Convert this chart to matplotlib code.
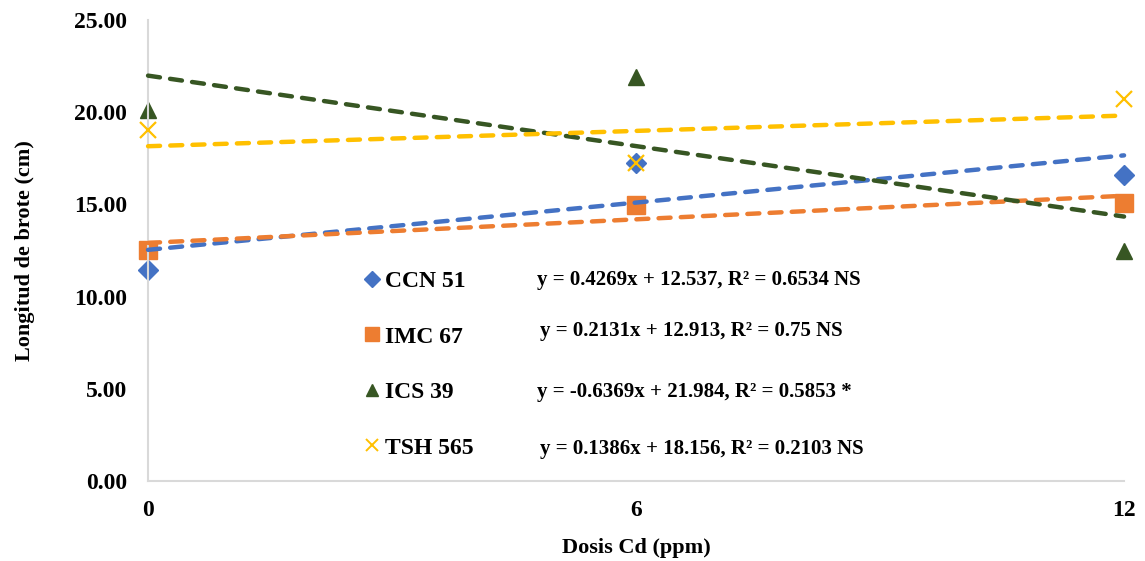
import numpy as np
import matplotlib.pyplot as plt
from matplotlib.lines import Line2D
from matplotlib.ticker import FormatStrFormatter

plt.rcParams['font.family'] = ['Liberation Serif', 'DejaVu Serif']
plt.rcParams['font.weight'] = 'bold'

# data
dosis = [0, 6, 12]
ccn51 = [11.45, 17.27, 16.57]
imc67 = [12.53, 14.96, 15.09]
ics39 = [20.12, 21.90, 12.47]
tsh565 = [19.03, 17.23, 20.70]

nombres = ['CCN 51', 'IMC 67', 'ICS 39', 'TSH 565']
pendientes = [0.4269, 0.2131, -0.6369, 0.1386]
interceptos = [12.537, 12.913, 21.984, 18.156]
ecuaciones = ['y = 0.4269x + 12.537, R² = 0.6534 NS',
              'y = 0.2131x + 12.913, R² = 0.75 NS',
              'y = -0.6369x + 21.984, R² = 0.5853 *',
              'y = 0.1386x + 18.156, R² = 0.2103 NS']

series = [ccn51, imc67, ics39, tsh565]
colores = ['#4472C4', '#ED7D31', '#375623', '#FFC000']
marcas = ['D', 's', '^', 'x']
tam = [10.5, 13, 12, 12]

fig = plt.figure(figsize=(11.45, 5.61), dpi=100)
ax = fig.add_axes([0.1293, 0.1426, 0.8524, 0.8217])

x = np.array(dosis)
handles = []
for y, c, m, s, b, a in zip(series, colores, marcas, tam, pendientes, interceptos):
    if m == 'x':
        ax.plot(x, y, linestyle='none', marker=m, ms=s, mew=1.6, color=c, zorder=4, clip_on=False)
    else:
        ax.plot(x, y, linestyle='none', marker=m, ms=s, color=c, mec=c, zorder=2, clip_on=False)
    xl = np.array([dosis[0], dosis[-1]])
    ax.plot(xl, a + b * xl, color=c, lw=3.2, dashes=(2.7, 2.3), dash_capstyle='round', zorder=3, clip_on=False)
    handles.append(Line2D([], [], linestyle='none', marker=m, color=c,
                          ms=s * 0.76, mew=1.4 if m == 'x' else 1))

leg = ax.legend(handles, nombres, loc='center left', bbox_to_anchor=(0.222, 0.2527),
                frameon=False, fontsize=17, labelspacing=1.44, handlelength=0.65,
                handletextpad=0.2, borderaxespad=0, borderpad=0)
for t in leg.get_texts():
    t.set_fontweight('bold')

ypos = [0.436, 0.325, 0.193, 0.069]
xpos = [0.3986, 0.402, 0.3986, 0.402]
for xe, ye, e in zip(xpos, ypos, ecuaciones):
    ax.text(xe, ye, e, transform=ax.transAxes, fontsize=15, fontweight='bold', va='center', ha='left')

ax.set_xlim(0, 12)
ax.set_ylim(0, 25)
ax.set_xticks(dosis)
ax.set_yticks(np.arange(0, 26, 5))
ax.yaxis.set_major_formatter(FormatStrFormatter('%.2f'))
ax.tick_params(length=0, labelsize=17)
ax.tick_params(axis='y', pad=15)
ax.tick_params(axis='x', pad=14)
for lab in ax.get_xticklabels() + ax.get_yticklabels():
    lab.set_fontweight('bold')

for sp in ['top', 'right']:
    ax.spines[sp].set_visible(False)
for sp in ['left', 'bottom']:
    ax.spines[sp].set_color('#D9D9D9')
    ax.spines[sp].set_linewidth(1.5)

ax.set_xlabel('Dosis Cd (ppm)', fontsize=16, fontweight='bold', labelpad=12)
ax.set_ylabel('Longitud de brote (cm)', fontsize=16, fontweight='bold', labelpad=28)

fig.savefig('out.png', dpi=100)
